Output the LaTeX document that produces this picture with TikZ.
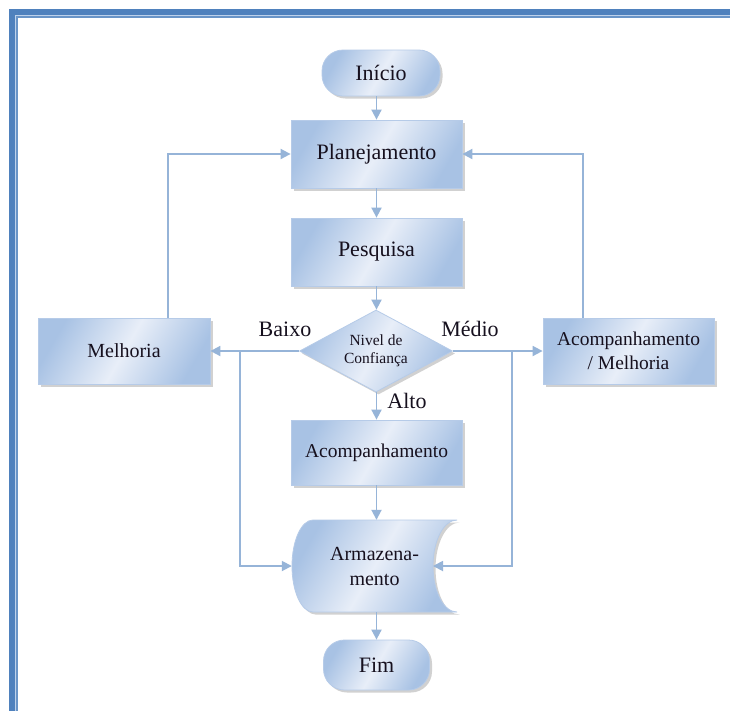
\documentclass[tikz,border=0pt]{standalone}
\usepackage{fontspec}
\setmainfont{Liberation Serif}
\usetikzlibrary{shapes.geometric,arrows.meta,shadows}
\definecolor{frameblue}{RGB}{79,129,189}
\definecolor{framelight}{RGB}{190,210,235}
\definecolor{boxdark}{RGB}{168,194,228}
\definecolor{boxlight}{RGB}{232,238,248}
\definecolor{boxedge}{RGB}{182,203,232}
\definecolor{linkblue}{RGB}{150,180,216}
\definecolor{txt}{RGB}{22,16,30}
\tikzset{
  boxfill/.style={top color=boxdark, bottom color=boxdark, middle color=boxlight, shading angle=60},
  boxbase/.style={boxfill, draw=boxedge, line width=0.8pt, text=txt, align=center, inner sep=2pt,
    drop shadow={shadow xshift=2.5pt, shadow yshift=-2.5pt, fill=black!45, opacity=0.4}},
  procbox/.style={boxbase, rectangle},
  termbox/.style={boxbase, rectangle, rounded corners=21pt},
  decbox/.style={boxbase, diamond, aspect=1.87, inner sep=0pt},
  conn/.style={draw=linkblue, line width=1.8pt, -{Triangle[length=10pt,width=10pt]}},
  lbl/.style={text=txt, inner sep=0pt, font=\fontsize{22}{24}\selectfont}
}
\begin{document}
\begin{tikzpicture}[x=1pt,y=-1pt]
\useasboundingbox (0,0) rectangle (730,710);
\clip (0,0) rectangle (730,710);
\fill[white] (0,0) rectangle (730,710);
% frame
\fill[frameblue] (9,9) rectangle (760,740);
\fill[framelight] (15,15) rectangle (760,740);
\fill[frameblue!85] (16.3,16.3) rectangle (760,740);
\fill[white] (17.6,17.6) rectangle (760,740);

% nodes
\node[termbox, minimum width=118pt, minimum height=46pt, font=\fontsize{22}{24}\selectfont] (ini) at (381,73) {Início};
\node[procbox, minimum width=171pt, minimum height=68pt, font=\fontsize{22}{24}\selectfont] (plan) at (376.5,154) {Planejamento};
\node[procbox, minimum width=171pt, minimum height=68pt, font=\fontsize{22}{24}\selectfont] (pesq) at (376.5,252) {Pesquisa};
\node[decbox, minimum width=153pt, minimum height=82pt, font=\fontsize{15.5}{18}\selectfont] (conf) at (376,351) {Nivel de\\Confiança};
\node[procbox, minimum width=172pt, minimum height=66pt, font=\fontsize{20}{22}\selectfont] (mel) at (124,351) {Melhoria};
\node[procbox, minimum width=171pt, minimum height=66pt, font=\fontsize{19.5}{24}\selectfont] (acm) at (628.5,351) {Acompanhamento\\/ Melhoria};
\node[procbox, minimum width=171pt, minimum height=65pt, font=\fontsize{19.5}{22}\selectfont] (acomp) at (376.5,452.5) {Acompanhamento};

% stored data shape
\path[boxfill, draw=boxedge, line width=0.8pt,
  drop shadow={shadow xshift=2.5pt, shadow yshift=-2.5pt, fill=black!45, opacity=0.4}]
  (313,520) -- (457,520)
  .. controls (443.7,520) and (433,540.6) .. (433,566)
  .. controls (433,591.4) and (443.7,612) .. (457,612)
  -- (313,612)
  .. controls (301.4,612) and (292,591.4) .. (292,566)
  .. controls (292,540.6) and (301.4,520) .. (313,520) -- cycle;
\node[text=txt, align=center, inner sep=0pt, minimum width=165pt, minimum height=92pt,
  font=\fontsize{20}{25}\selectfont] (arm) at (374.5,566) {Armazena-\\mento};
\coordinate (armin) at (433,566);

\node[termbox, minimum width=106pt, minimum height=50pt, font=\fontsize{22}{24}\selectfont] (fim) at (376.5,665) {Fim};

% connectors
\draw[conn] (ini.south -| plan) -- (plan.north);
\draw[conn] (plan) -- (pesq);
\draw[conn] (pesq.south) -- (pesq.south |- conf.north);
\draw[conn] (conf.west) -- (mel.east);
\draw[conn] (conf.east) -- (acm.west);
\draw[conn] (conf.south -| acomp) -- (acomp.north);
\draw[conn] (acomp.south) -- (acomp.south |- arm.north);
\draw[conn] (arm.south -| fim) -- (fim.north);
\draw[conn] ([xshift=44pt]mel.north) |- (plan.west);
\draw[conn] ([xshift=-45.5pt]acm.north) |- (plan.east);
\coordinate (bl) at (240,351);
\coordinate (br) at (512,351);
\draw[conn] (bl) |- (arm.west);
\draw[conn] (br) |- (armin);

% labels
\node[lbl] (lbaixo) at (285,329) {Baixo};
\node[lbl] (lmedio) at (470,329) {Médio};
\node[lbl] (lalto) at (407,401) {Alto};
\end{tikzpicture}
\end{document}
